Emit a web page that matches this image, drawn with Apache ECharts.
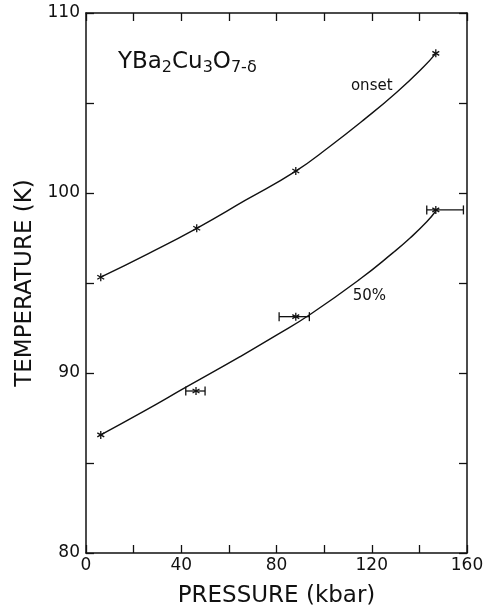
<!DOCTYPE html>
<html>
<head>
<meta charset="utf-8">
<script src="https://cdn.jsdelivr.net/npm/echarts@6/dist/echarts.min.js"></script>
<style>
  html, body { margin: 0; padding: 0; background: #fff; }
  #chart { width: 487px; height: 614px; }
</style>
</head>
<body>
<div id="chart"></div>
<script>
// measured points (kbar, K)
var pressureOnset = [6.2, 46.5, 88.1, 146.9];
var tempOnset = [95.32, 98.04, 101.22, 107.76];
var pressureHalf = [6.2, 46.2, 88.1, 146.9];
var tempHalf = [86.56, 89.0, 93.13, 99.06];
var errLowHalf = [null, 41.9, 81.1, 143.1];
var errHighHalf = [null, 50.0, 93.8, 158.5];

// hand drawn curves
var curveOnsetP = [6.2, 26.0, 46.5, 67.0, 88.1, 102.5, 116.5, 130.5, 141.7, 146.9];
var curveOnsetT = [95.32, 96.62, 98.04, 99.6, 101.22, 102.6, 104.05, 105.6, 107.0, 107.76];
var curveHalfP = [6.2, 24.0, 42.0, 64.7, 80.0, 94.1, 115.1, 129.1, 136.1, 143.1, 146.9];
var curveHalfT = [86.56, 87.85, 89.21, 90.91, 92.1, 93.25, 95.22, 96.7, 97.5, 98.4, 99.0];

var xTicks = [0, 40, 80, 120, 160];
var yTicks = [80, 90, 100, 110];

var ink = '#111';
var font = 'DejaVu Sans';

function pairs(a, b) {
    var out = [];
    for (var i = 0; i < a.length; i++) {
        out.push([a[i], b[i]]);
    }
    return out;
}

function pointRows(p, t, lo, hi) {
    var out = [];
    for (var i = 0; i < p.length; i++) {
        out.push([p[i], t[i], lo ? lo[i] : null, hi ? hi[i] : null]);
    }
    return out;
}

// asterisk marker plus optional horizontal error bar
function renderStar(params, api) {
    var c = api.coord([api.value(0), api.value(1)]);
    var r = 4;
    var st = { stroke: ink, lineWidth: 1.3 };
    var kids = [];
    var angs = [90, 30, 150];
    for (var k = 0; k < angs.length; k++) {
        var a = angs[k] * Math.PI / 180;
        kids.push({
            type: 'line',
            shape: { x1: c[0] - r * Math.cos(a), y1: c[1] - r * Math.sin(a), x2: c[0] + r * Math.cos(a), y2: c[1] + r * Math.sin(a) },
            style: st
        });
    }
    var lo = api.value(2), hi = api.value(3);
    if (lo != null && !isNaN(lo)) {
        var l = api.coord([lo, api.value(1)]);
        var h = api.coord([hi, api.value(1)]);
        var cap = 4.5;
        kids.push({ type: 'line', shape: { x1: l[0], y1: l[1], x2: h[0], y2: h[1] }, style: st });
        kids.push({ type: 'line', shape: { x1: l[0], y1: l[1] - cap, x2: l[0], y2: l[1] + cap }, style: st });
        kids.push({ type: 'line', shape: { x1: h[0], y1: h[1] - cap, x2: h[0], y2: h[1] + cap }, style: st });
    }
    return { type: 'group', children: kids };
}

var myChart = echarts.init(document.getElementById('chart'));

var axisCommon = {
    type: 'value',
    axisLine: { show: true, onZero: false, lineStyle: { color: ink, width: 1.5 } },
    axisTick: { show: true, inside: true, length: 8, lineStyle: { color: ink, width: 1.3 } },
    minorTick: { show: true, splitNumber: 2, length: 8, lineStyle: { color: ink, width: 1.3 } },
    splitLine: { show: false },
    minorSplitLine: { show: false }
};

var option = {
    backgroundColor: '#fff',
    animation: false,
    grid: { left: 86, right: 20, top: 13, bottom: 61 },
    xAxis: [
        Object.assign({}, axisCommon, {
            position: 'bottom',
            min: xTicks[0], max: xTicks[xTicks.length - 1], interval: 40,
            name: 'PRESSURE (kbar)',
            nameLocation: 'middle',
            nameGap: 32,
            nameTextStyle: { color: ink, fontSize: 23, fontFamily: font },
            axisLabel: { color: ink, fontSize: 17, fontFamily: font, margin: 4 }
        }),
        Object.assign({}, axisCommon, {
            position: 'top',
            min: xTicks[0], max: xTicks[xTicks.length - 1], interval: 40,
            axisLabel: { show: false }
        })
    ],
    yAxis: [
        Object.assign({}, axisCommon, {
            position: 'left',
            min: yTicks[0], max: yTicks[yTicks.length - 1], interval: 10,
            name: 'TEMPERATURE (K)',
            nameLocation: 'middle',
            nameGap: 45,
            nameTextStyle: { color: ink, fontSize: 23, fontFamily: font },
            axisLabel: { color: ink, fontSize: 17, fontFamily: font, margin: 6 }
        }),
        Object.assign({}, axisCommon, {
            position: 'right',
            min: yTicks[0], max: yTicks[yTicks.length - 1], interval: 10,
            axisLabel: { show: false }
        })
    ],
    series: [
        {
            name: 'onset curve',
            type: 'line',
            smooth: 0.5,
            showSymbol: false,
            lineStyle: { color: ink, width: 1.4 },
            data: pairs(curveOnsetP, curveOnsetT)
        },
        {
            name: '50% curve',
            type: 'line',
            smooth: 0.5,
            showSymbol: false,
            lineStyle: { color: ink, width: 1.4 },
            data: pairs(curveHalfP, curveHalfT)
        },
        {
            name: 'onset',
            type: 'custom',
            renderItem: renderStar,
            data: pointRows(pressureOnset, tempOnset)
        },
        {
            name: '50%',
            type: 'custom',
            renderItem: renderStar,
            data: pointRows(pressureHalf, tempHalf, errLowHalf, errHighHalf)
        },
        {
            name: 'labels',
            type: 'scatter',
            symbolSize: 0,
            silent: true,
            itemStyle: { opacity: 1 },
            label: { show: true, color: ink, fontFamily: font },
            data: [
                { value: [120.0, 105.94], label: { formatter: 'onset', fontSize: 15, color: ink, position: 'inside' } },
                { value: [119.0, 94.28], label: { formatter: '50%', fontSize: 15, color: ink, position: 'inside' } },
                {
                    value: [13.4, 107.3],
                    label: {
                        position: 'right', distance: 0,
                        formatter: '{m|YBa}{s|2}{m|Cu}{s|3}{m|O}{s|7-δ}',
                        rich: {
                            m: { fontSize: 23, fontFamily: font, color: ink },
                            s: { fontSize: 16, fontFamily: font, color: ink, padding: [12, 0, 0, 0] }
                        }
                    }
                }
            ]
        }
    ]
};

myChart.setOption(option);
</script>
</body>
</html>
